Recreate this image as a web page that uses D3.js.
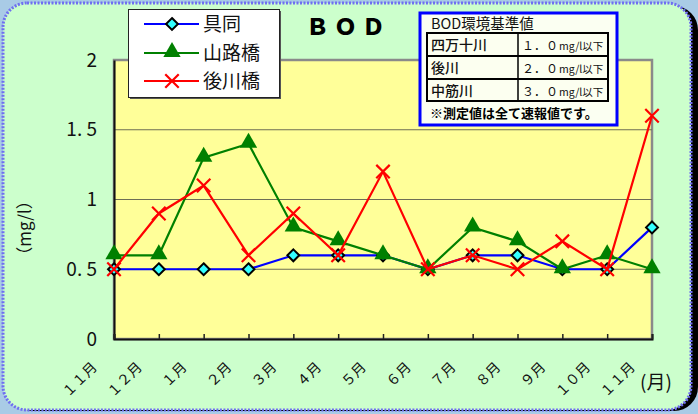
<!DOCTYPE html>
<html>
<head>
<meta charset="utf-8">
<script src="https://cdn.jsdelivr.net/npm/d3@7"></script>
<style>
  html, body { margin: 0; padding: 0; background: #a9cbe6; }
  svg { display: block; }
  text { font-family: "Noto Sans CJK JP", "Noto Sans", sans-serif; }
</style>
</head>
<body>
<svg id="chart" width="698" height="414"></svg>
<script>
const months = ["１１月", "１２月", "１月", "２月", "３月", "４月", "５月", "６月", "７月", "８月", "９月", "１０月", "１１月"];
const gudou = [0.5, 0.5, 0.5, 0.5, 0.6, 0.6, 0.6, 0.5, 0.6, 0.6, 0.5, 0.5, 0.8];
const yamajibashi = [0.6, 0.6, 1.3, 1.4, 0.8, 0.7, 0.6, 0.5, 0.8, 0.7, 0.5, 0.6, 0.5];
const ushirogawabashi = [0.5, 0.9, 1.1, 0.6, 0.9, 0.6, 1.2, 0.5, 0.6, 0.5, 0.7, 0.5, 1.6];
const seriesNames = ["具同", "山路橋", "後川橋"];
const yTicks = [0, 0.5, 1, 1.5, 2];
const yTickLabels = ["0", "0. 5", "1", "1. 5", "2"];
const standardRivers = ["四万十川", "後川", "中筋川"];
const standardValues = ["１．０", "２．０", "３．０"];

const svg = d3.select("#chart");
const plotL = 114, plotR = 652, plotT = 60, plotB = 339;

// frame + shadow
svg.append("rect").attr("x", 9).attr("y", 6).attr("width", 689).attr("height", 405)
  .attr("rx", 24).attr("fill", "#000");
svg.append("rect").attr("x", 3).attr("y", 3).attr("width", 688).attr("height", 407)
  .attr("rx", 24).attr("fill", "#ccffcc")
  .attr("stroke", "#6f6ff0").attr("stroke-width", 3).attr("stroke-dasharray", "2,1.5");

const x = d3.scaleLinear().domain([0, months.length - 1]).range([plotL, plotR]);
const y = d3.scaleLinear().domain([0, 2]).range([plotB, plotT]);

// plot area
svg.append("rect").attr("x", plotL).attr("y", plotT).attr("width", plotR - plotL).attr("height", plotB - plotT)
  .attr("fill", "#ffff99").attr("stroke", "#8a8a8a").attr("stroke-width", 2.5);

svg.append("g").selectAll("line").data(yTicks.filter(d => d > 0 && d < 2)).join("line")
  .attr("x1", plotL).attr("x2", plotR).attr("y1", d => y(d)).attr("y2", d => y(d))
  .attr("stroke", "#6e6e55").attr("stroke-width", 1.2);

const yAxis = svg.append("g").attr("transform", `translate(${plotL},0)`)
  .call(d3.axisLeft(y).tickValues(yTicks).tickSize(0).tickPadding(17)
    .tickFormat((d, i) => yTickLabels[i]));
yAxis.select(".domain").attr("stroke", "#111").attr("stroke-width", 2);
yAxis.selectAll("text").attr("font-size", 19).attr("fill", "#111");

const xAxis = svg.append("g").attr("transform", `translate(0,${plotB})`)
  .call(d3.axisBottom(x).tickValues(d3.range(months.length)).tickSize(-5).tickFormat(""));
xAxis.select(".domain").attr("stroke", "#111").attr("stroke-width", 2);
xAxis.selectAll(".tick line").attr("stroke", "#222").attr("stroke-width", 1.5);

svg.append("g").selectAll("text").data(months).join("text")
  .attr("transform", (d, i) => `translate(${x(i) - 16},368) rotate(-45)`)
  .attr("text-anchor", "end").attr("font-size", 14).attr("fill", "#111")
  .text(d => d);

svg.append("text").attr("x", 640).attr("y", 389).attr("font-size", 19).attr("fill", "#111").text("(月)");

svg.append("text").attr("transform", "translate(31,228) rotate(-90)")
  .attr("text-anchor", "middle").attr("font-size", 17).attr("fill", "#111").text("（mg/l）");

// series
const line = d3.line().x((d, i) => x(i)).y(d => y(d));
const diamond = d3.symbol().type(d3.symbolDiamond2).size(90);
const triangle = d3.symbol().type(d3.symbolTriangle).size(130);
const cross = d3.symbol().type(d3.symbolTimes).size(120);

function series(values, color, marker) {
  const g = svg.append("g");
  g.append("path").datum(values).attr("d", line).attr("fill", "none")
    .attr("stroke", color).attr("stroke-width", 2.2);
  const m = g.selectAll("path.m").data(values).join("path").attr("class", "m")
    .attr("transform", (d, i) => `translate(${x(i)},${y(d)})`);
  marker(m);
}
series(gudou, "#0000ff", m => m.attr("d", diamond).attr("fill", "#33ffff").attr("stroke", "#000").attr("stroke-width", 2));
series(yamajibashi, "#008000", m => m.attr("d", triangle).attr("fill", "#008000")
  .attr("transform", (d, i) => `translate(${x(i)},${y(d) - 1})`));
series(ushirogawabashi, "#ff0000", m => m.attr("d", cross).attr("fill", "none").attr("stroke", "#ff0000").attr("stroke-width", 2.2));

// title
svg.append("text").attr("x", 348).attr("y", 35).attr("text-anchor", "middle")
  .attr("font-size", 23).attr("font-weight", "900").attr("letter-spacing", 5).attr("fill", "#000")
  .text("ＢＯＤ");

// legend
const lg = svg.append("g");
lg.append("rect").attr("x", 130).attr("y", 11).attr("width", 151).attr("height", 88).attr("fill", "#555");
lg.append("rect").attr("x", 128.5).attr("y", 9.5).attr("width", 151).attr("height", 88)
  .attr("fill", "#fff").attr("stroke", "#222").attr("stroke-width", 1);
const legendColors = ["#0000ff", "#008000", "#ff0000"];
const legendRows = [24, 53, 81];
seriesNames.forEach((name, i) => {
  const yy = legendRows[i];
  lg.append("line").attr("x1", 144).attr("x2", 199).attr("y1", yy).attr("y2", yy)
    .attr("stroke", legendColors[i]).attr("stroke-width", 2.2);
  const m = lg.append("path").attr("transform", `translate(172,${yy})`);
  if (i === 0) m.attr("d", diamond).attr("fill", "#33ffff").attr("stroke", "#000").attr("stroke-width", 2);
  if (i === 1) m.attr("d", triangle).attr("fill", "#008000").attr("transform", `translate(172,${yy - 1})`);
  if (i === 2) m.attr("d", cross).attr("fill", "none").attr("stroke", "#ff0000").attr("stroke-width", 2.2);
  lg.append("text").attr("x", 203).attr("y", yy + 7).attr("font-size", 19).attr("fill", "#111").text(name);
});

// standards box
const sb = svg.append("g");
sb.append("rect").attr("x", 420).attr("y", 13).attr("width", 197).attr("height", 112)
  .attr("fill", "#fbfff2").attr("stroke", "#0000ff").attr("stroke-width", 3);
sb.append("text").attr("x", 431).attr("y", 29).attr("font-size", 14.5).attr("fill", "#111").text("BOD環境基準値");
const rowY = [33, 56, 79, 101];
sb.append("rect").attr("x", 427).attr("y", rowY[0]).attr("width", 181).attr("height", rowY[3] - rowY[0])
  .attr("fill", "#fcfff0").attr("stroke", "#000").attr("stroke-width", 2);
rowY.slice(1, 3).forEach(r => sb.append("line").attr("x1", 427).attr("x2", 608).attr("y1", r).attr("y2", r)
  .attr("stroke", "#000").attr("stroke-width", 2));
sb.append("line").attr("x1", 518).attr("x2", 518).attr("y1", rowY[0]).attr("y2", rowY[3])
  .attr("stroke", "#000").attr("stroke-width", 1.5);
standardRivers.forEach((r, i) => {
  sb.append("text").attr("x", 431).attr("y", rowY[i] + 17).attr("font-size", 14).attr("font-weight", 500)
    .attr("fill", "#111").text(r);
  const t = sb.append("text").attr("x", 522).attr("y", rowY[i] + 17).attr("fill", "#111");
  t.append("tspan").attr("font-size", 12).text(standardValues[i]);
  t.append("tspan").attr("font-size", 10.5).attr("dx", 1).text("mg/l以下");
});
sb.append("text").attr("x", 430).attr("y", 118).attr("font-size", 13).attr("font-weight", "bold")
  .attr("fill", "#000").text("※測定値は全て速報値です。");
</script>
</body>
</html>
